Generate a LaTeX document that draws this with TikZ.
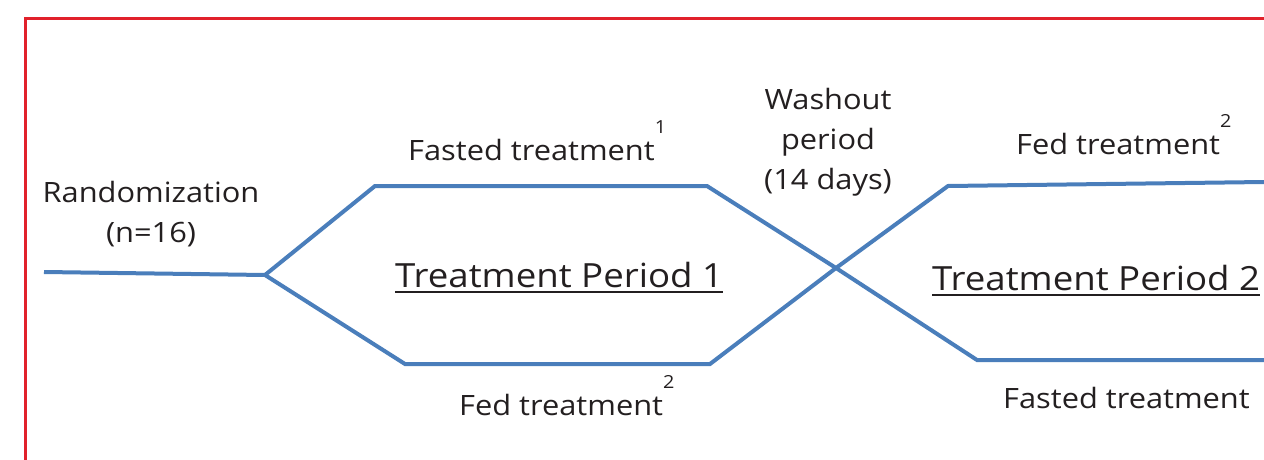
\documentclass[tikz,border=0pt]{standalone}
\usepackage{fontspec}
\setmainfont[FakeStretch=1.1]{Open Sans}
\usepackage{xcolor}
\definecolor{cLine}{HTML}{4A7EBB}
\definecolor{cFrame}{HTML}{E1212B}
\definecolor{cText}{HTML}{231F20}
\usepackage{tikz}
\usetikzlibrary{positioning}
% superscript note mark and underlined period title
\newcommand{\trtnote}[1]{\raisebox{27pt}{\fontsize{18}{18}\selectfont #1}}
\newcommand{\periodtitle}[1]{\setbox0\hbox{#1}\rlap{\rule[-6pt]{\wd0}{2pt}}\box0}
\tikzset{
  arm-line/.style={draw=cLine,line width=4pt},
  frame-line/.style={draw=cFrame,line width=3pt},
  txt-label/.style={text=cText,inner sep=0pt,align=center,
    font=\fontsize{28}{40}\selectfont},
  txt-period/.style={text=cText,inner sep=0pt,
    font=\fontsize{33.3}{40}\selectfont},
}

\begin{document}
\begin{tikzpicture}[x=1pt,y=-1pt]
  \useasboundingbox (0,0) rectangle (1264,460);
  \draw[frame-line] (25.5,460) -- (25.5,18.5) -- (1264,18.5);

  % branch points
  \coordinate (start) at (44,272);
  \coordinate (rand)  at (265,275);
  \coordinate (up1a)  at (375,186);
  \coordinate (up1b)  at (707,186);
  \coordinate (lo1a)  at (405,364);
  \coordinate (lo1b)  at (710,364);
  \coordinate (cross) at (836,268);
  \coordinate (up2a)  at (948,186);
  \coordinate (up2b)  at (1264,182);
  \coordinate (lo2a)  at (977,360);
  \coordinate (lo2b)  at (1264,360);

  \draw[arm-line] (start) -- (rand);
  \draw[arm-line] (rand) -- (up1a) -- (up1b) -- (cross) -- (lo2a) -- (lo2b);
  \draw[arm-line] (rand) -- (lo1a) -- (lo1b) -- (cross) -- (up2a) -- (up2b);

  \node[txt-label] (randlbl) at (151,214) {Randomization\\(n=16)};
  \node[txt-label] (washlbl) at (828,142) {Washout\\period\\(14 days)};
  \node[txt-label,anchor=base west] (fasted1) at (408,160) {Fasted treatment\trtnote{1}};
  \node[txt-label,anchor=base west] (fed1)    at (459,415) {Fed treatment\trtnote{2}};
  \node[txt-label,anchor=base west] (fed2)    at (1016,154) {Fed treatment\trtnote{2}};
  \node[txt-label,anchor=base west] (fasted2) at (1003,408) {Fasted treatment};
  \node[txt-period,anchor=base west] (period1) at (395,287) {\periodtitle{Treatment Period 1}};
  \node[txt-period,anchor=base west] (period2) at (932,290) {\periodtitle{Treatment Period 2}};
\end{tikzpicture}
\end{document}
